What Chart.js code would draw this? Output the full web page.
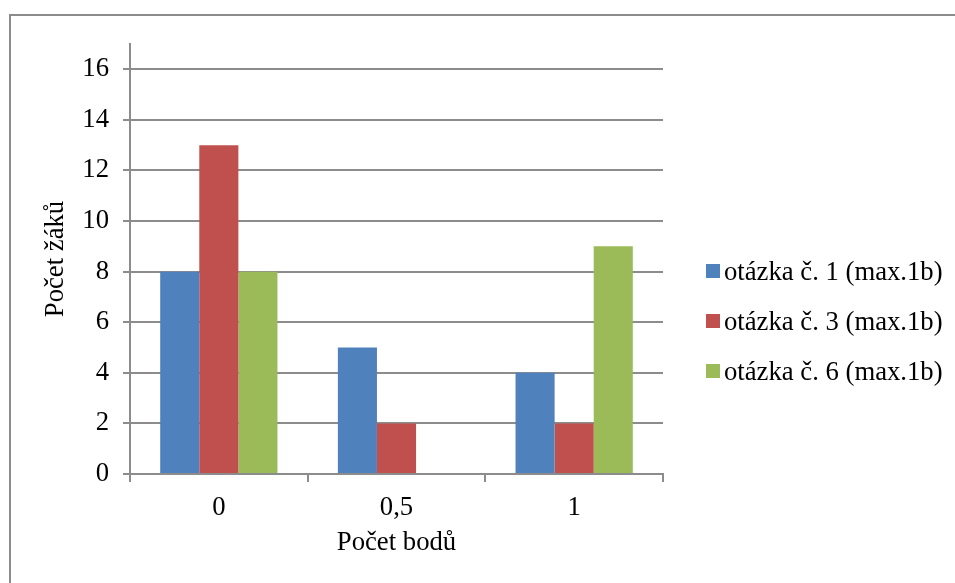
<!DOCTYPE html>
<html>
<head>
<meta charset="utf-8">
<script src="https://cdn.jsdelivr.net/npm/chart.js@4.4.0/dist/chart.umd.min.js"></script>
<style>
  body { margin: 0; background: #fff; overflow: hidden; }
  #wrap { position: relative; width: 955px; height: 583px; overflow: hidden; }
  #frame { position: absolute; left: 9px; top: 14px; width: 1000px; height: 1000px; border: 2px solid #8c8c8c; }
  #myChart { position: absolute; left: 0; top: 0; }
  #legend { position: absolute; left: 706px; top: 246px; font-family: 'Liberation Serif', 'Times New Roman', serif; font-size: 26.7px; color: #000; }
  #legend .item { display: flex; align-items: center; height: 50px; white-space: nowrap; }
  #legend .box { width: 14px; height: 14px; margin-right: 4px; }
</style>
</head>
<body>
<div id="wrap">
  <div id="frame"></div>
  <canvas id="myChart" width="955" height="583"></canvas>
  <div id="legend"></div>
</div>
<script>
// chart data
const categories = ["0", "0,5", "1"];
const seriesNames = ["otázka č. 1 (max.1b)", "otázka č. 3 (max.1b)", "otázka č. 6 (max.1b)"];
const q1Values = [8, 5, 4];
const q3Values = [13, 2, 2];
const q6Values = [8, 0, 9];
const seriesColors = ["#4F81BD", "#C0504D", "#9BBB59"];
const yTicks = [0, 2, 4, 6, 8, 10, 12, 14, 16];

const font = { family: "'Liberation Serif', 'Times New Roman', serif", size: 26.7 };
const gray = "#8c8c8c";

const ctx = document.getElementById("myChart");
const chart = new Chart(ctx, {
  type: "bar",
  data: {
    labels: categories,
    datasets: [q1Values, q3Values, q6Values].map((vals, i) => ({
      label: seriesNames[i],
      data: vals,
      backgroundColor: seriesColors[i],
      borderWidth: 0,
      categoryPercentage: 0.66,
      barPercentage: 1.0,
    })),
  },
  options: {
    responsive: false,
    animation: false,
    layout: { padding: { top: 44, right: 292, bottom: 0, left: 0 } },
    plugins: {
      tooltip: { enabled: false },
      legend: { display: false },
    },
    scales: {
      x: {
        grid: {
          offset: true,
          drawOnChartArea: false,
          drawTicks: true,
          tickLength: 8,
          color: gray,
          lineWidth: 2,
        },
        border: { display: true, color: gray, width: 2 },
        ticks: { font: font, color: "#000", padding: 10 },
        title: { display: true, text: "Počet bodů", font: font, color: "#000", padding: { top: 0, bottom: 24 } },
        afterFit: (s) => { s.height = 109; },
      },
      y: {
        min: 0,
        max: 17,
        afterBuildTicks: (s) => { s.ticks = yTicks.map((v) => ({ value: v })); },
        grid: { color: gray, lineWidth: 2, tickLength: 7, drawTicks: true },
        border: { display: true, color: gray, width: 2 },
        ticks: { font: font, color: "#000", padding: 14 },
        title: { display: true, text: "Počet žáků", font: font, color: "#000", padding: { top: 40, bottom: 0 } },
        afterFit: (s) => { s.width = 130; },
      },
    },
  },
});

// legend built from the chart's datasets
const legendEl = document.getElementById("legend");
chart.data.datasets.forEach((ds) => {
  const item = document.createElement("div");
  item.className = "item";
  item.innerHTML = `<span class="box" style="background:${ds.backgroundColor}"></span><span>${ds.label}</span>`;
  legendEl.appendChild(item);
});
</script>
</body>
</html>
